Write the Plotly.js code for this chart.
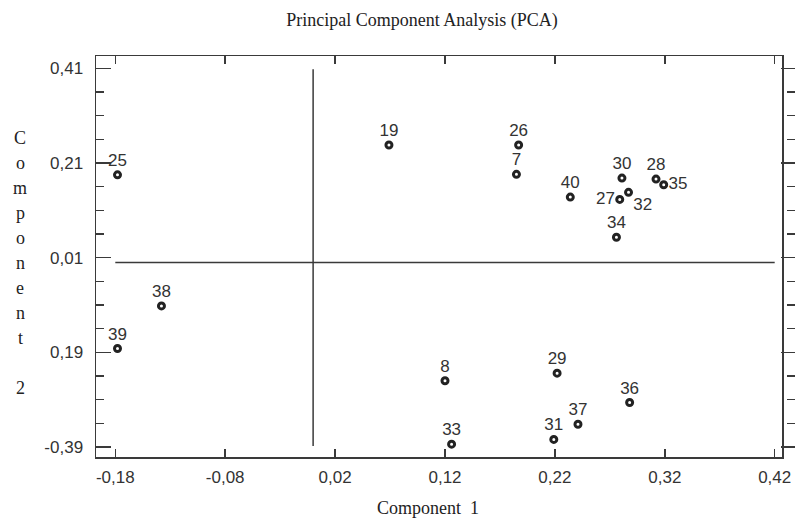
<!DOCTYPE html>
<html>
<head>
<meta charset="utf-8">
<script src="https://cdn.plot.ly/plotly-3.0.1.min.js"></script>
<style>html,body{margin:0;padding:0;background:#fff;}#chart{width:796px;height:526px;}</style>
</head>
<body>
<div id="chart"></div>
<script>
// ---- data ----
var pointIds = ['25','38','39','19','26','7','40','30','28','35','32','27','34','8','29','36','37','31','33'];
var component1 = [-0.178,-0.138,-0.178,0.069,0.187,0.185,0.234,0.281,0.312,0.319,0.287,0.279,0.276,0.120,0.222,0.288,0.241,0.219,0.126];
var component2 = [0.185,-0.092,-0.182,0.248,0.248,0.186,0.138,0.178,0.176,0.164,0.148,0.133,0.053,-0.250,-0.234,-0.296,-0.342,-0.374,-0.384];
var labelPositions = ['top center','top center','top center','top center','top center','top center','top center','top center','top center','middle right','bottom right','middle left','top center','top center','top center','top center','top center','top center','top center'];

var xTickVals = [-0.18,-0.08,0.02,0.12,0.22,0.32,0.42];
var xTickText = ['-0,18','-0,08','0,02','0,12','0,22','0,32','0,42'];
var yTickVals = [0.41,0.21,0.01,-0.19,-0.39];
var yTickText = ['0,41','0,21','0,01','0,19','-0,39'];

var hLineX = [-0.18, 0.42];   // horizontal reference line at component 2 = 0
var vLineY = [-0.388, 0.408]; // vertical reference line at component 1 = 0

var yTitleChars = ['C','o','m','p','o','n','e','n','t','','2'];

// ---- layout helpers ----
var W = 796, H = 526;
var M = {l: 96, r: 1, t: 56, b: 69};
var plotW = W - M.l - M.r, plotH = H - M.t - M.b;
var frameRight = 782;
var xDomEnd = (frameRight - M.l) / plotW;
var ink = '#3a3a3a';
var sans = 'Liberation Sans, Arial, sans-serif';
var serif = 'Liberation Serif, Times New Roman, serif';

function px2paperX(px){ return (px - M.l) / plotW; }
function px2paperY(py){ return (H - M.b - py) / plotH; }

var traces = [
  {
    type: 'scatter', mode: 'lines', x: hLineX, y: [0, 0],
    line: {color: ink, width: 1.5}, hoverinfo: 'skip', showlegend: false
  },
  {
    type: 'scatter', mode: 'lines', x: [0, 0], y: vLineY,
    line: {color: ink, width: 1.5}, hoverinfo: 'skip', showlegend: false
  },
  {
    type: 'scatter', mode: 'markers+text',
    x: component1, y: component2, text: pointIds,
    textposition: labelPositions,
    textfont: {family: sans, size: 17, color: '#333'},
    marker: {symbol: 'circle-open', size: 6, color: '#222', line: {width: 3, color: '#222'}},
    cliponaxis: false, showlegend: false
  },
  {
    type: 'scatter', mode: 'markers', x: [null], y: [null], yaxis: 'y2',
    hoverinfo: 'skip', showlegend: false
  }
];

var annotations = [];
yTitleChars.forEach(function(ch, i){
  if (!ch) return;
  annotations.push({
    text: ch, xref: 'paper', yref: 'paper',
    x: px2paperX(20), y: px2paperY(138 + i * 25),
    xanchor: 'center', yanchor: 'middle', showarrow: false,
    font: {family: serif, size: 18, color: '#222'}
  });
});
annotations.push({
  text: 'Component\u00a0 1', xref: 'paper', yref: 'paper',
  x: px2paperX(428), y: px2paperY(508),
  xanchor: 'center', yanchor: 'middle', showarrow: false,
  font: {family: serif, size: 18, color: '#222'}
});

var yRange = [-0.39 - 10 / 473.4, 0.41 + 12.3 / 473.4];
var xRange = [-0.18 - (115.3 - 96) / 1099, 0.42 + (frameRight - 774.7) / 1099];

var layout = {
  width: W, height: H,
  margin: M,
  paper_bgcolor: '#fff', plot_bgcolor: '#fff',
  title: {
    text: 'Principal Component Analysis (PCA)',
    font: {family: serif, size: 18, color: '#222'},
    x: 422 / W, xref: 'container', xanchor: 'center',
    y: 1 - 20 / H, yref: 'container', yanchor: 'middle'
  },
  xaxis: {
    domain: [0, xDomEnd],
    range: xRange, tickmode: 'array', tickvals: xTickVals, ticktext: xTickText,
    ticks: 'inside', ticklen: 8, tickwidth: 1.5, tickcolor: ink,
    showline: true, linecolor: ink, linewidth: 1.5, mirror: 'ticks',
    showgrid: false, zeroline: false,
    tickfont: {family: sans, size: 17, color: '#333'},
    ticklabelstandoff: 4
  },
  yaxis: {
    range: yRange, tickmode: 'array', tickvals: yTickVals, ticktext: yTickText,
    ticks: 'inside', ticklen: 15, tickwidth: 1.5, tickcolor: ink,
    minor: {tick0: 0.01, dtick: 0.05, ticks: 'inside', ticklen: 8, tickwidth: 1.5, tickcolor: ink, showgrid: false},
    showline: true, linecolor: ink, linewidth: 1.5, mirror: true,
    showgrid: false, zeroline: false,
    tickfont: {family: sans, size: 17, color: '#333'},
    ticklabelstandoff: 8
  },
  yaxis2: {
    overlaying: 'y', side: 'right', anchor: 'free', position: 1,
    range: yRange, tickmode: 'array', tickvals: yTickVals, showticklabels: false,
    ticks: 'inside', ticklen: 14, tickwidth: 1.5, tickcolor: ink,
    minor: {tick0: 0.01, dtick: 0.05, ticks: 'inside', ticklen: 8, tickwidth: 1.5, tickcolor: ink, showgrid: false},
    showline: false, showgrid: false, zeroline: false
  },
  annotations: annotations,
  showlegend: false
};

Plotly.newPlot('chart', traces, layout, {displayModeBar: false, staticPlot: true});
</script>
</body>
</html>
